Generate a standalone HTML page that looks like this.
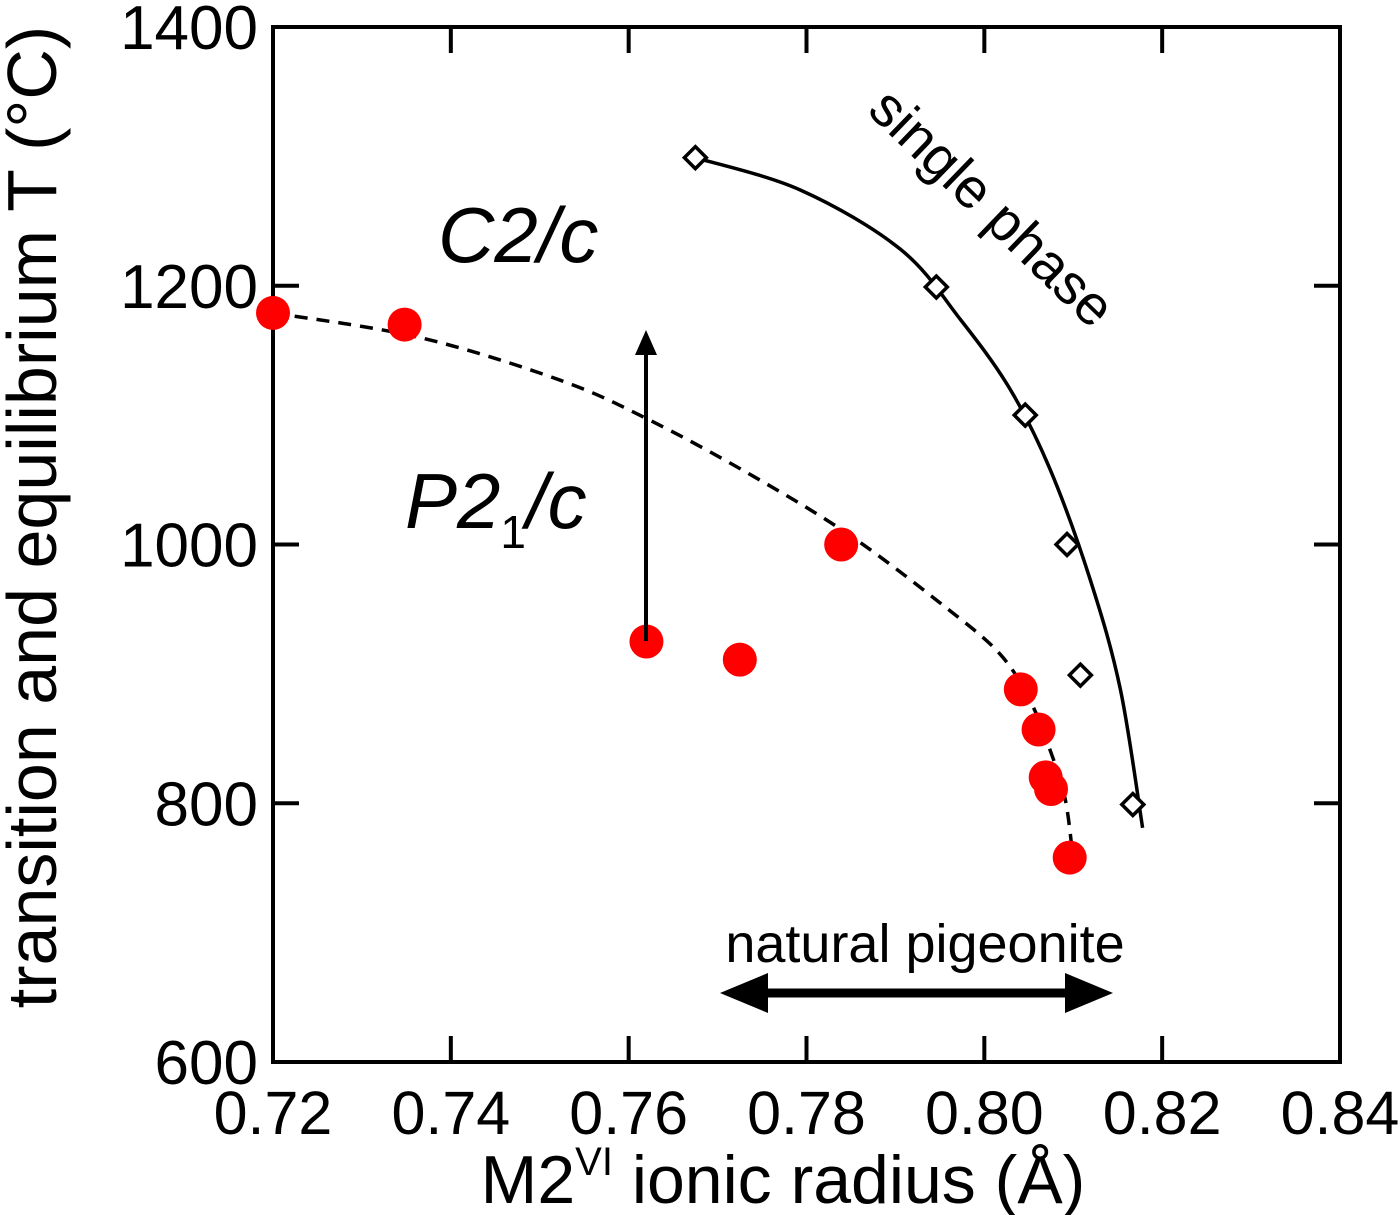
<!DOCTYPE html>
<html><head><meta charset="utf-8"><style>
html,body{margin:0;padding:0;background:#fff}
svg{display:block;font-family:"Liberation Sans",sans-serif}
</style></head><body>
<svg id="chart" width="1400" height="1215" viewBox="0 0 1400 1215" xmlns="http://www.w3.org/2000/svg">
<rect x="273" y="27" width="1067" height="1035" fill="none" stroke="#000" stroke-width="4"/>
<g id="ticks"></g>
<g id="curves"></g>
<g id="marks"></g>
<text x="0" y="0" transform="translate(56,517) rotate(-90)" text-anchor="middle" font-size="70">transition and equilibrium T (°C)</text>
<text x="783" y="1203" text-anchor="middle" font-size="68">M2<tspan font-size="40" dy="-28">VI</tspan><tspan dy="28"> ionic radius (Å)</tspan></text>
<text x="438" y="262" font-size="78" font-style="italic">C2/c</text>
<text x="405" y="528" font-size="78" font-style="italic">P2<tspan font-size="46" dy="20" font-style="normal">1</tspan><tspan dy="-20">/c</tspan></text>
<text x="0" y="0" transform="translate(866,112) rotate(44)" font-size="56">single phase</text>
<text x="925" y="962" text-anchor="middle" font-size="54">natural pigeonite</text>
<g>
<line x1="760" y1="993" x2="1075" y2="993" stroke="#000" stroke-width="9"/>
<polygon points="720,993 768,973 768,1013" fill="#000"/>
<polygon points="1113,993 1065,973 1065,1013" fill="#000"/>
</g>
<g>
<line x1="646" y1="641" x2="646" y2="350" stroke="#000" stroke-width="4"/>
<polygon points="646,330 635,355 657,355" fill="#000"/>
</g>
</svg>
<script>
const xTicks=[0.72,0.74,0.76,0.78,0.80,0.82,0.84];
const xTickLabels=["0.72","0.74","0.76","0.78","0.80","0.82","0.84"];
const yTicks=[600,800,1000,1200,1400];
const yTickLabels=["600","800","1000","1200","1400"];
const transX=[0.72,0.7348,0.7620,0.7725,0.7839,0.8041,0.8061,0.8069,0.8075,0.8096];
const transT=[1179,1170,925,911,1000,888,857,820,811,758];
const singleX=[0.7675,0.7946,0.8046,0.8093,0.8108,0.8167];
const singleT=[1299,1199,1100,1000,899,799];
const dashFitX=[0.72,0.7365,0.7523,0.7624,0.7737,0.7849,0.7961,0.8018,0.8051,0.8074,0.8091,0.8100];
const dashFitT=[1179,1160,1127,1096,1054,1007,949,915,880,841,803,756];
const solidFitX=[0.7675,0.7793,0.7906,0.7973,0.8029,0.8074,0.8119,0.8153,0.8178];
const solidFitT=[1299,1274,1228,1174,1120,1058,973,888,781];
const L=273,R=1340,T=27,B=1062;
const sx=v=>L+(v-0.72)/(0.12)*(R-L);
const sy=v=>B-(v-600)/800*(B-T);
const NS="http://www.w3.org/2000/svg";
function mk(tag,attrs,parent){const e=document.createElementNS(NS,tag);for(const k in attrs)e.setAttribute(k,attrs[k]);parent.appendChild(e);return e;}
const tg=document.getElementById('ticks');
xTicks.forEach((v,i)=>{
 if(i>0&&i<xTicks.length-1){
  const a=mk('line',{x1:sx(v),x2:sx(v),y1:B,y2:B-26,stroke:'#000','stroke-width':4},tg);
  
  
  const b=mk('line',{x1:sx(v),x2:sx(v),y1:T,y2:T+26,stroke:'#000','stroke-width':4},tg);
  
  
 }
 const t=mk('text',{x:sx(v),y:1134,'text-anchor':'middle','font-size':61},tg);
 t.textContent=xTickLabels[i];
 
 
});
yTicks.forEach((v,i)=>{
 if(i>0&&i<yTicks.length-1){
  const a=mk('line',{x1:L,x2:L+26,y1:sy(v),y2:sy(v),stroke:'#000','stroke-width':4},tg);
  
  
  const b=mk('line',{x1:R,x2:R-26,y1:sy(v),y2:sy(v),stroke:'#000','stroke-width':4},tg);
  
  
 }
 const t=mk('text',{x:258,y:sy(v)+22,'text-anchor':'end','font-size':62},tg);
 t.textContent=yTickLabels[i];
 
 
});
function smooth(xs,ys){const p=xs.map((x,i)=>[sx(x),sy(ys[i])]);let d='M'+p[0][0]+','+p[0][1];
 for(let i=0;i<p.length-1;i++){const p0=p[i-1]||p[i],p1=p[i],p2=p[i+1],p3=p[i+2]||p2;
 d+=' C'+(p1[0]+(p2[0]-p0[0])/6)+','+(p1[1]+(p2[1]-p0[1])/6)+' '+(p2[0]-(p3[0]-p1[0])/6)+','+(p2[1]-(p3[1]-p1[1])/6)+' '+p2[0]+','+p2[1];}return d;}
const cg=document.getElementById('curves');
const d1=mk('path',{d:smooth(dashFitX,dashFitT),fill:'none',stroke:'#000','stroke-width':3.5,'stroke-dasharray':'13,9'},cg);


const d2=mk('path',{d:smooth(solidFitX,solidFitT),fill:'none',stroke:'#000','stroke-width':3.5},cg);


const mg=document.getElementById('marks');
transX.forEach((x,i)=>{
 const c=mk('circle',{cx:sx(x),cy:sy(transT[i]),r:17,fill:'#f00'},mg);
 
 
});
singleX.forEach((x,i)=>{
 const X=sx(x),Y=sy(singleT[i]),s=11;
 const p=mk('polygon',{points:`${X},${Y-s} ${X+s},${Y} ${X},${Y+s} ${X-s},${Y}`,fill:'#fff',stroke:'#000','stroke-width':3.5},mg);
 
 
});
</script>
</body></html>
